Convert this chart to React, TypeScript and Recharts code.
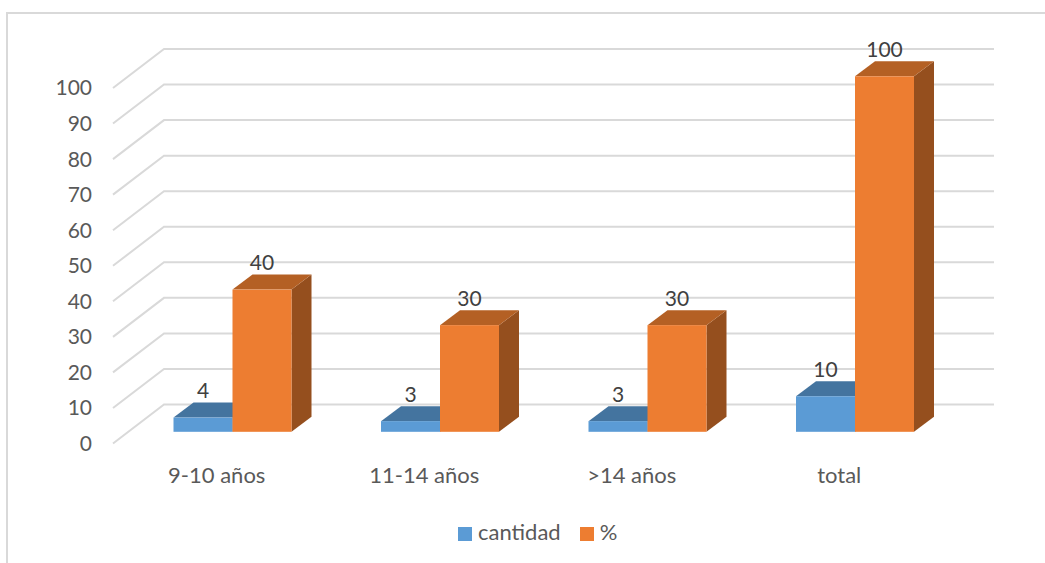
import { Bar, BarChart, CartesianGrid, LabelList, Legend, XAxis, YAxis } from 'recharts';

const categories = ['9-10 años', '11-14 años', '>14 años', 'total'];
const cantidad = [4, 3, 3, 10];
const porcentaje = [40, 30, 30, 100];
const yTicks = [0, 10, 20, 30, 40, 50, 60, 70, 80, 90, 100];

const rows = categories.map((name, i) => ({ name, cantidad: cantidad[i], pct: porcentaje[i] }));

const FONT = 'Lato, sans-serif';
const GRID = '#D9D9D9';

// bars stand a bit inside the floor, so they are moved off the front plane
const BAR_DX = 15.5;
const BAR_DY = -11.7;
const DEPTH_X = 20;
const DEPTH_Y = -15;
// the floor/side wall of the fake 3D box
const WALL_DX = 51;
const WALL_DY = -39;

function box3d(front: string, top: string, side: string) {
  return function Box({ x, y, width, height }: any) {
    const l = x + BAR_DX;
    const r = l + width;
    const t = y + BAR_DY;
    const b = t + height;
    return (
      <g>
        <polygon
          points={`${r},${t} ${r + DEPTH_X},${t + DEPTH_Y} ${r + DEPTH_X},${b + DEPTH_Y} ${r},${b}`}
          fill={side}
        />
        <polygon
          points={`${l},${t} ${l + DEPTH_X},${t + DEPTH_Y} ${r + DEPTH_X},${t + DEPTH_Y} ${r},${t}`}
          fill={top}
        />
        <rect x={l} y={t} width={width} height={height} fill={front} />
      </g>
    );
  };
}

function WallLine({ key, x1, y1, x2, y2 }: any) {
  return (
    <path
      key={key}
      d={`M${x1},${y1} L${x1 + WALL_DX},${y1 + WALL_DY} L${x2 + WALL_DX},${y2 + WALL_DY}`}
      fill="none"
      stroke={GRID}
      strokeWidth={2}
    />
  );
}

function ValueLabel({ x, y, width, value }: any) {
  return (
    <text
      x={x + width / 2 + BAR_DX}
      y={y - 31}
      textAnchor="middle"
      fill="#404040"
      fontSize={21}
      fontFamily={FONT}
    >
      {value}
    </text>
  );
}

export default function App() {
  return (
    <div style={{ position: 'absolute', left: 0, top: 0, width: 1045, height: 563, overflow: 'hidden', background: '#fff' }}>
      <div
        style={{
          position: 'absolute',
          left: 6,
          top: 12,
          width: 1100,
          height: 600,
          border: `2px solid ${GRID}`,
        }}
      />
      <div style={{ position: 'absolute', left: 0, top: 0 }}>
        <BarChart
          width={1045}
          height={563}
          data={rows}
          barSize={59}
          barGap={0}
          margin={{ top: 88, right: 102, bottom: 62.5, left: 53 }}
        >
          <CartesianGrid horizontal={WallLine as any} vertical={false} />
          <XAxis
            dataKey="name"
            axisLine={false}
            tickLine={false}
            tickMargin={17.5}
            tick={{ fontSize: 22, fill: '#595959', fontFamily: FONT }}
            interval={0}
          />
          <YAxis
            width={60}
            domain={[0, 100]}
            ticks={yTicks}
            axisLine={false}
            tickLine={false}
            tickMargin={15}
            tick={{ fontSize: 21, fill: '#595959', fontFamily: FONT }}
          />
          <Legend
            iconType="square"
            iconSize={14}
            itemSorter="dataKey"
            wrapperStyle={{ left: 458, top: 518, width: 'auto', fontSize: 22, fontFamily: FONT }}
            formatter={(v: string) => (
              <span style={{ color: '#595959', marginLeft: 2, marginRight: v === '%' ? 0 : 9 }}>{v}</span>
            )}
          />
          <Bar
            dataKey="cantidad"
            name="cantidad"
            fill="#5B9BD5"
            shape={box3d('#5B9BD5', '#44749F', '#3A6690')}
            isAnimationActive={false}
          >
            <LabelList dataKey="cantidad" content={ValueLabel} />
          </Bar>
          <Bar
            dataKey="pct"
            name="%"
            fill="#ED7D31"
            shape={box3d('#ED7D31', '#B46024', '#954F1E')}
            isAnimationActive={false}
          >
            <LabelList dataKey="pct" content={ValueLabel} />
          </Bar>
        </BarChart>
      </div>
    </div>
  );
}
